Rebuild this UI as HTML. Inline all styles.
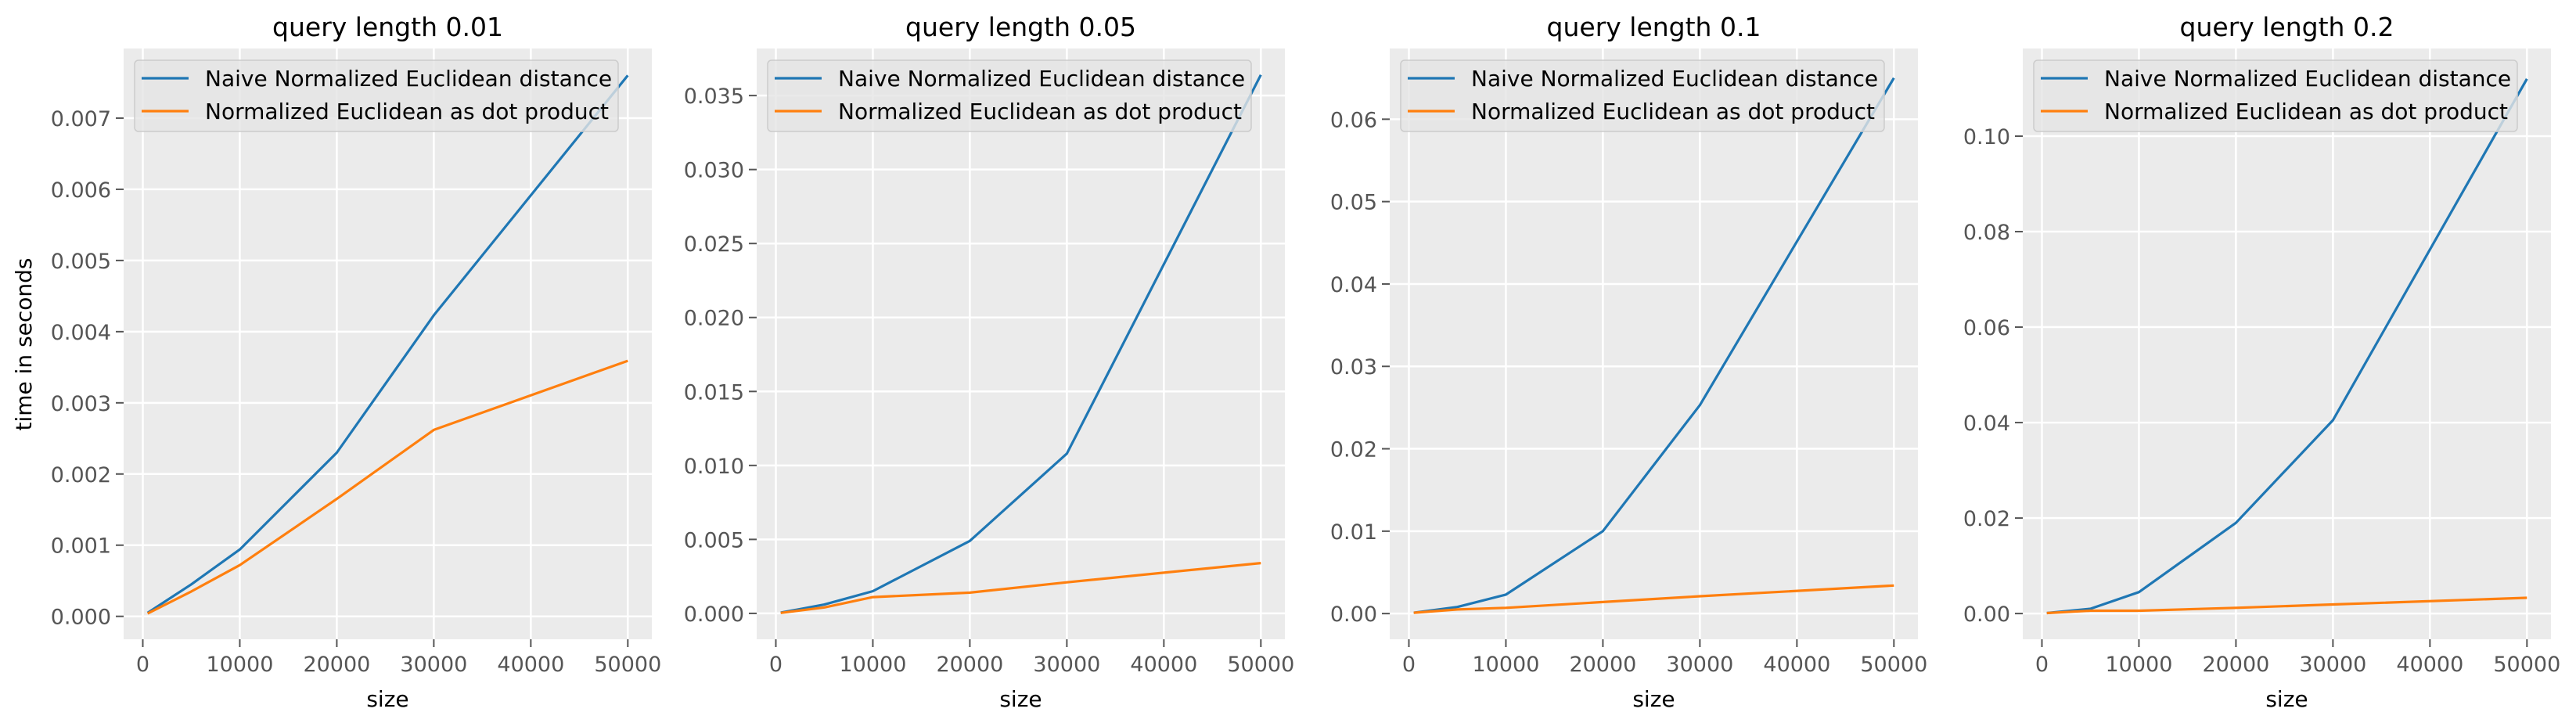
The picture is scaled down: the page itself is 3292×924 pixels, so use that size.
<!DOCTYPE html>
<html><head><meta charset="utf-8"><style>
body{margin:0;background:#fff;}
svg{display:block;font-family:"DejaVu Sans","Liberation Sans",sans-serif;}
</style></head>
<body>
<svg id="chart" width="3292" height="924" viewBox="0 0 3292 924" xmlns="http://www.w3.org/2000/svg"></svg>
<script>
const sizes = [500, 5000, 10000, 20000, 30000, 50000];
const titles = ["query length 0.01","query length 0.05","query length 0.1","query length 0.2"];
const naive1 = [0.00005, 0.00045, 0.00094, 0.0023, 0.00423, 0.0076];
const dot1   = [0.00004, 0.00035, 0.00072, 0.00165, 0.00262, 0.00359];
const naive2 = [0.00005, 0.0006, 0.0015, 0.0049, 0.0108, 0.0364];
const dot2   = [0.00003, 0.0004, 0.0011, 0.0014, 0.0021, 0.0034];
const naive3 = [0.0001, 0.0008, 0.0023, 0.0100, 0.0253, 0.0650];
const dot3   = [0.0001, 0.0005, 0.0007, 0.0014, 0.0021, 0.0034];
const naive4 = [0.0001, 0.0010, 0.0045, 0.0190, 0.0405, 0.1120];
const dot4   = [0.0001, 0.0006, 0.0006, 0.0012, 0.0019, 0.0033];
const xTicks = [0, 10000, 20000, 30000, 40000, 50000];
const yTicks1 = ["0.000","0.001","0.002","0.003","0.004","0.005","0.006","0.007"];
const yTicks2 = ["0.000","0.005","0.010","0.015","0.020","0.025","0.030","0.035"];
const yTicks3 = ["0.00","0.01","0.02","0.03","0.04","0.05","0.06"];
const yTicks4 = ["0.00","0.02","0.04","0.06","0.08","0.10"];
const legendLabels = ["Naive Normalized Euclidean distance","Normalized Euclidean as dot product"];

const NS="http://www.w3.org/2000/svg";
const svg=document.getElementById('chart');
function mk(tag,attrs,parent){const e=document.createElementNS(NS,tag);for(const k in attrs)e.setAttribute(k,attrs[k]);(parent||svg).appendChild(e);return e;}

const panels=[
 {left:158,naive:naive1,dot:dot1,ticks:yTicks1,ymin:-0.000322,ymax:0.007978},
 {left:967,naive:naive2,dot:dot2,ticks:yTicks2,ymin:-0.00175,ymax:0.03818},
 {left:1776,naive:naive3,dot:dot3,ticks:yTicks3,ymin:-0.00312,ymax:0.06858},
 {left:2585,naive:naive4,dot:dot4,ticks:yTicks4,ymin:-0.00539,ymax:0.11836}
];
const W=675,TOP=62,BOT=817,XMIN=-1975,XMAX=52475;

panels.forEach((p,i)=>{
 const g=mk('g',{});
 
 
 const xs=v=>p.left+(v-XMIN)/(XMAX-XMIN)*W;
 const ys=v=>BOT-(v-p.ymin)/(p.ymax-p.ymin)*(BOT-TOP);
 const bg=mk('rect',{x:p.left,y:TOP,width:W,height:BOT-TOP,fill:'#ebebeb'},g);
 
 
 xTicks.forEach(t=>{
  const x=xs(t);
  mk('line',{x1:x,x2:x,y1:TOP,y2:BOT,stroke:'#fff','stroke-width':2.5},g);
  mk('line',{x1:x,x2:x,y1:BOT,y2:BOT+10,stroke:'#555','stroke-width':2},g);
  const tl=mk('text',{x:x,y:858,'text-anchor':'middle','font-size':27,fill:'#555'},g);
  
  
  tl.textContent=t;
 });
 p.ticks.forEach(s=>{
  const y=ys(parseFloat(s));
  mk('line',{x1:p.left,x2:p.left+W,y1:y,y2:y,stroke:'#fff','stroke-width':2.5},g);
  mk('line',{x1:p.left-10,x2:p.left,y1:y,y2:y,stroke:'#555','stroke-width':2},g);
  const tl=mk('text',{x:p.left-16,y:y+10,'text-anchor':'end','font-size':27,fill:'#555'},g);
  
  
  tl.textContent=s;
 });
 [[p.naive,'#1f77b4','naive-line'],[p.dot,'#ff7f0e','dot-product-line']].forEach(([arr,c,n])=>{
  const pts=arr.map((v,k)=>xs(sizes[k]).toFixed(1)+','+ys(v).toFixed(1)).join(' ');
  const pl=mk('polyline',{points:pts,fill:'none',stroke:c,'stroke-width':3.2,'stroke-linejoin':'round'},g);
  
  
 });
 const lg=mk('g',{},g);
 
 
 mk('rect',{x:p.left+14,y:77,width:618,height:91,rx:5,fill:'#e5e5e5','fill-opacity':0.8,stroke:'#cccccc','stroke-width':1.5},lg);
 [['#1f77b4',100],['#ff7f0e',142]].forEach(([c,y],k)=>{
  mk('line',{x1:p.left+23,x2:p.left+83,y1:y,y2:y,stroke:c,'stroke-width':3.2},lg);
  const t=mk('text',{x:p.left+104,y:y+10,'font-size':28,fill:'#000'},lg);
  
  
  t.textContent=legendLabels[k];
 });
 const tt=mk('text',{x:p.left+W/2,y:46,'text-anchor':'middle','font-size':33,fill:'#000'},g);
 
 
 tt.textContent=titles[i];
 const xl=mk('text',{x:p.left+W/2,y:903,'text-anchor':'middle','font-size':28,fill:'#000'},g);
 
 
 xl.textContent='size';
});
const yl=mk('text',{x:0,y:0,'text-anchor':'middle','font-size':28,fill:'#000',transform:'translate(40,440) rotate(-90)'});


yl.textContent='time in seconds';
</script>
</body></html>
